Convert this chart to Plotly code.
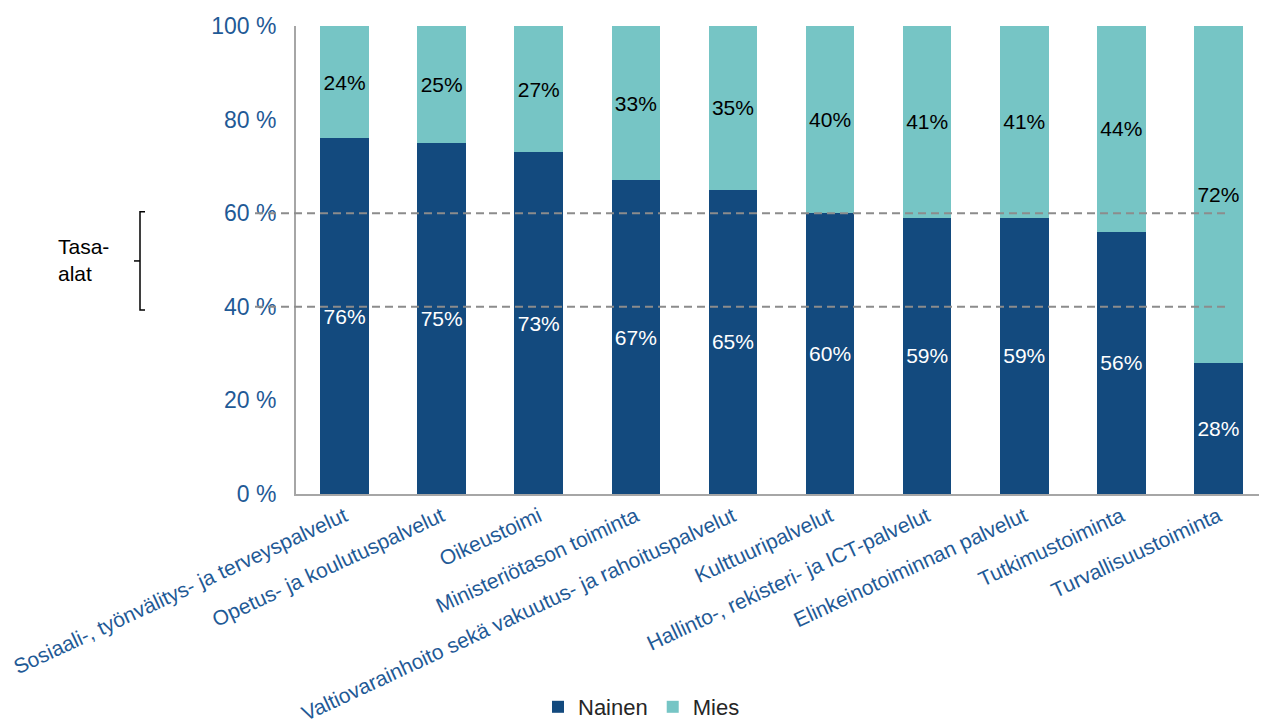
import plotly.graph_objects as go

categories = [
    "Sosiaali-, työnvälitys- ja terveyspalvelut",
    "Opetus- ja koulutuspalvelut",
    "Oikeustoimi",
    "Ministeriötason toiminta",
    "Valtiovarainhoito sekä vakuutus- ja rahoituspalvelut",
    "Kulttuuripalvelut",
    "Hallinto-, rekisteri- ja ICT-palvelut",
    "Elinkeinotoiminnan palvelut",
    "Tutkimustoiminta",
    "Turvallisuustoiminta",
]
nainen = [76, 75, 73, 67, 65, 60, 59, 59, 56, 28]
mies = [24, 25, 27, 33, 35, 40, 41, 41, 44, 72]
y_ticks = [0, 20, 40, 60, 80, 100]

W, H = 1267, 727
OFF = 8  # page body margin
L, R, T, B = 288, 8, 18, 241
pw = W - L - R

def px(sx):
    return (sx - OFF - L) / pw

fig = go.Figure()
fig.add_trace(go.Bar(
    x=categories, y=nainen, name="Nainen",
    marker=dict(color="#134A7E", line=dict(width=0)),
    text=[f"{v}%" for v in nainen], texttemplate="%{text}",
    textposition="inside", insidetextanchor="middle", textangle=0,
    textfont=dict(color="white", size=21), constraintext="none",
))
fig.add_trace(go.Bar(
    x=categories, y=mies, name="Mies",
    marker=dict(color="#76C5C5", line=dict(width=0)),
    text=[f"{v}%" for v in mies], texttemplate="%{text}",
    textposition="inside", insidetextanchor="middle", textangle=0,
    textfont=dict(color="black", size=21), constraintext="none",
))

shapes = []
for yv in (40, 60):
    shapes.append(dict(type="line", xref="paper", yref="y",
                       x0=px(255), x1=px(1226), y0=yv, y1=yv,
                       line=dict(color="#8C8C8C", width=2, dash="8px,5px"), layer="above"))
# bracket
bx = px(140)
shapes.append(dict(type="path", xref="paper", yref="y",
                   path=f"M {px(145)} 60.3 L {bx} 60.3 L {bx} 39.3 L {px(145)} 39.3",
                   line=dict(color="black", width=1.5)))
shapes.append(dict(type="line", xref="paper", yref="y",
                   x0=px(134), x1=bx, y0=49.8, y1=49.8,
                   line=dict(color="black", width=1.5)))

fig.update_layout(
    width=W, height=H,
    margin=dict(l=L, r=R, t=T, b=B, autoexpand=False),
    paper_bgcolor="white", plot_bgcolor="white",
    barmode="stack", bargap=0.5,
    font=dict(family="Liberation Sans, Arial, sans-serif"),
    shapes=shapes,
    showlegend=True,
    legend=dict(orientation="h", x=0.5, xref="container", xanchor="center",
                y=28 / H, yref="container", yanchor="middle",
                font=dict(size=22, color="#262626"),
                itemwidth=30, traceorder="normal"),
    annotations=[dict(text="Tasa-<br>alat", xref="paper", yref="y",
                      x=px(56), y=50, xanchor="left", yanchor="middle",
                      showarrow=False, align="left",
                      font=dict(size=21, color="black"))],
)
fig.update_xaxes(
    tickangle=-25, tickfont=dict(size=21, color="#1F5A96"),
    showline=True, linecolor="#A6A6A6", linewidth=2,
    showgrid=False, ticks="", automargin=False,
)
fig.update_yaxes(
    range=[0, 100], tickvals=y_ticks, ticktext=[f"{v} %" for v in y_ticks],
    tickfont=dict(size=23, color="#1F5A96"),
    showline=True, linecolor="#A6A6A6", linewidth=2,
    showgrid=False, ticks="", ticklabelstandoff=13, zeroline=False,
    automargin=False,
)

fig.write_html("out.html")
